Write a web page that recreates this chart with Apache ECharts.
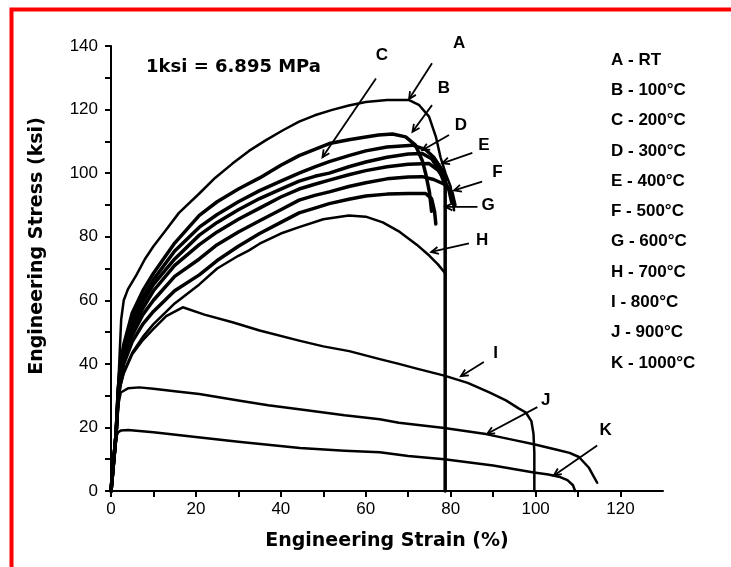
<!DOCTYPE html>
<html>
<head>
<meta charset="utf-8">
<script src="https://cdn.jsdelivr.net/npm/echarts@6/dist/echarts.min.js"></script>
<style>
html,body{margin:0;padding:0;background:#fff;}
#chart{width:731px;height:567px;}
</style>
</head>
<body>
<div id="chart"></div>
<script>
// ---- Data (strain %, stress ksi) ----
const curveNames = ['A','B','C','D','E','F','G','H','I','J','K'];
const legendLines = ['A - RT','B - 100°C','C - 200°C','D - 300°C','E - 400°C','F - 500°C','G - 600°C','H - 700°C','I - 800°C','J - 900°C','K - 1000°C'];

const curveA = [[0,0],[1.2,18],[1.7,33],[2.1,45],[2.4,54],[3,60],[4,63.5],[6,68],[8,73],[10,77],[12.9,82],[16,87.5],[20.8,93.6],[24.5,98.5],[28.6,103],[32.5,107],[36.5,110.4],[40.5,113.5],[44.3,116.2],[48,118.2],[52.1,119.9],[56,121.3],[60,122.4],[65,123],[70.2,123],[72.5,121.5],[74.9,117.8],[76.5,111.5],[77.6,105],[78.8,99.9],[80,95.7],[80.8,88.3]];
const curveB = [[0,0],[1.2,18],[1.7,32],[2.2,40],[3,46],[5,56],[7.5,63],[10,68.5],[15,78],[20.8,86.7],[25,91],[30,95],[35,98.5],[40,102.5],[44.3,105.5],[48,107.5],[51.4,109.3],[56,110.5],[60,111.4],[63,112],[66.3,112.3],[69.4,111.4],[71.7,108.8],[73.3,104],[74.1,99.9],[75,94],[75.5,88]];
const curveC = [[0,0],[1.2,18],[1.7,32],[2.2,39],[3,45],[5,54],[7.5,61],[10,66.5],[15,75.5],[20.8,83],[25,87],[30,91],[35,94.5],[40,97.5],[44.3,100],[48,102],[51.4,103.6],[56,105.5],[60,107],[65,108.2],[71,108.8],[74,107.5],[76,105],[78,101],[79,98]];
const curveD = [[0,0],[1.2,18],[1.7,31],[2.2,38],[3,44],[5,52.5],[7.5,59.5],[10,65],[15,73],[20.8,80.5],[25,84.5],[30,88.5],[35,92],[40,95],[44.3,97.5],[48,99],[51.4,100],[56,102],[60,103.5],[65,105],[70,106],[73.3,106.2],[75.5,104.5],[77.5,100.5],[78.7,96],[78.7,0]];
const curveE = [[0,0],[1.2,18],[1.7,30],[2.2,37],[3,43],[5,51],[7.5,57.5],[10,63],[15,71],[20.8,77.5],[25,81.5],[30,85.5],[35,89],[40,92.5],[44.3,95],[48,96.5],[51.4,97.8],[56,99.5],[60,100.8],[65,102],[70,102.8],[74.9,103],[77,101],[78.5,98],[79.6,94.6],[80.2,91]];
const curveF = [[0,0],[1.2,18],[1.7,30],[2.2,36],[3,41.5],[5,49],[7.5,55.5],[10,60],[15,67.5],[20.8,73],[25,77.5],[30,81.5],[35,85],[40,88.5],[44.3,91.5],[48,93],[51.4,94.1],[56,95.8],[60,97],[65,98.2],[70,98.8],[73.3,98.9],[76,98],[78.5,96.5],[80.3,94],[81,90]];
const curveG = [[0,0],[1.2,18],[1.7,29],[2.2,35],[3,40],[5,47],[7.5,52.5],[10,56.5],[15,63],[20.8,68],[25,72.5],[30,77],[35,81],[40,84.5],[44.3,87.5],[48,89],[51.4,90.4],[56,91.8],[60,92.8],[65,93.4],[70,93.6],[74.1,93.6],[75.5,92],[76.2,88],[76.5,84]];
const curveH = [[0,0],[1.2,18],[1.7,28],[2.2,33],[3,37.5],[5,43.5],[7.5,48.5],[10,52.5],[15,59],[20.8,65],[25,70],[30,74],[32.5,75.7],[35,77.8],[40,81],[44.3,83],[50,85.5],[56,86.7],[60,86.3],[64,84.5],[68,81.5],[72,77.5],[75,74],[77,71.3],[78.7,68.5]];
const curveI = [[0,0],[1.2,18],[1.7,28],[2.2,33],[3,37],[5,43],[7.5,47.5],[10,51],[13,55],[16.9,57.8],[22,55.5],[28.6,53.1],[35,50.5],[44.3,47.3],[50,45.5],[56.1,44],[63.3,41.5],[67.8,40],[72,38.5],[78.5,36.3],[84,34],[89.1,31],[93,28.5],[96,26],[97.7,24.7],[99,22],[99.5,18],[99.7,12],[99.7,0]];
const curveJ = [[0,0],[1.2,17],[1.7,27],[2.3,31],[4,32.3],[6.7,32.6],[10,32.2],[15,31.4],[20.8,30.5],[30,28.5],[37,27],[44.3,25.7],[55,23.8],[63.3,22.6],[67.8,21.5],[78.5,19.8],[88.3,17.9],[95,16],[99.6,14.7],[105,13],[108,12],[110.2,10.7],[112.5,7.4],[113.5,5],[114.5,2.6]];
const curveK = [[0,0],[1.2,17],[1.7,18.5],[2.3,19],[4,19.2],[10,18.5],[21,16.8],[30,15.5],[44.5,13.5],[55,12.7],[63.3,12.2],[70,11],[78.5,10],[90,8],[99.6,5.8],[103,5.2],[105.5,4.5],[107.5,3.4],[108.8,1.8],[109.3,0]];
const curves = [curveA,curveB,curveC,curveD,curveE,curveF,curveG,curveH,curveI,curveJ,curveK];

// Label annotations (data coordinates): letter position, arrow tail, arrow head
const annoText = {A:[82.0,141.0],B:[78.4,126.8],C:[63.8,137.2],D:[82.4,115.1],E:[87.8,108.8],F:[91.0,100.4],G:[88.8,89.9],H:[87.4,78.9],I:[90.6,43.2],J:[102.4,28.5],K:[116.5,19.1]};
const annoFrom = {A:[75.6,134.6],B:[75.6,121.4],C:[62.4,129.8],D:[79.6,112.0],E:[85.1,106.4],F:[87.4,97.3],G:[86.3,89.4],H:[84.3,77.9],I:[87.8,40.6],J:[100.4,26.4],K:[114.5,14.3]};
const annoTo = {A:[70.2,123.3],B:[71.0,113.0],C:[49.8,105.0],D:[73.3,107.2],E:[78.0,103.1],F:[80.8,94.6],G:[78.7,89.4],H:[75.4,75.2],I:[82.4,36.1],J:[88.6,18.0],K:[104.3,4.9]};

const xTitle = 'Engineering Strain (%)';
const yTitle = 'Engineering Stress (ksi)';
const noteText = '1ksi = 6.895 MPa';

const thickBand = ['B','C','D','E','F','G'];

const chart = echarts.init(document.getElementById('chart'), null, {renderer:'canvas'});

const axisCommon = {
  axisLine:{show:true,onZero:false,lineStyle:{color:'#000',width:2}},
  axisTick:{show:true,inside:false,length:6,lineStyle:{color:'#000',width:2}},
  splitLine:{show:false},
  axisLabel:{color:'#000',fontSize:17,fontFamily:'Liberation Sans, Arial, sans-serif'}
};

chart.setOption({
  animation:false,
  backgroundColor:'#fff',
  grid:{left:111,right:68,top:46,bottom:76,containLabel:false},
  xAxis:Object.assign({}, axisCommon, {
    type:'value', min:0, max:130, interval:10,
    axisLabel:Object.assign({}, axisCommon.axisLabel, {margin:10, showMaxLabel:false,
      formatter:v => (v % 20 === 0 && v <= 120) ? String(v) : ''}),
    name:xTitle, nameLocation:'middle', nameGap:41,
    nameTextStyle:{color:'#000',fontSize:19,fontWeight:'bold',fontFamily:'DejaVu Sans, sans-serif'}
  }),
  yAxis:Object.assign({}, axisCommon, {
    type:'value', min:0, max:140, interval:10,
    axisLabel:Object.assign({}, axisCommon.axisLabel, {margin:13,
      formatter:v => (v % 20 === 0) ? String(v) : ''})
  }),
  series: curveNames.map((n,i)=>({
    name:n, type:'line', data:curves[i], showSymbol:false, symbol:'none',
    smooth:false, clip:false,
    lineStyle:{color:'#000', width: thickBand.includes(n) ? 3.5 : 2.5, join:'round', cap:'round'},
    z: 3
  }))
});

// ---- annotations ----
const g = [];
// red frame
g.push({type:'rect', left:9, top:7, shape:{x:0,y:0,width:800,height:700}, style:{fill:'none',stroke:'#ff0000',lineWidth:4}, z:100, silent:true});

curveNames.forEach(n=>{
  const t = chart.convertToPixel({gridIndex:0}, annoText[n]);
  g.push({type:'text', x:t[0], y:t[1], style:{text:n, fill:'#000', font:'bold 17px "Liberation Sans", Arial, sans-serif', align:'center', verticalAlign:'middle'}, z:10});
  const a = chart.convertToPixel({gridIndex:0}, annoFrom[n]);
  const b = chart.convertToPixel({gridIndex:0}, annoTo[n]);
  g.push({type:'line', shape:{x1:a[0],y1:a[1],x2:b[0],y2:b[1]}, style:{stroke:'#000',lineWidth:1.8}, z:10});
  const ang = Math.atan2(b[1]-a[1], b[0]-a[0]);
  const L = 8, W = 0.45;
  g.push({type:'polyline', shape:{points:[
    [b[0]-L*Math.cos(ang-W), b[1]-L*Math.sin(ang-W)],
    [b[0],b[1]],
    [b[0]-L*Math.cos(ang+W), b[1]-L*Math.sin(ang+W)]
  ]}, style:{stroke:'#000',lineWidth:1.8,fill:'none'}, z:10});
});

// legend text block
legendLines.forEach((s,i)=>{
  g.push({type:'text', x:611, y:60 + i*30.3, style:{text:s, fill:'#000', font:'bold 17px "Liberation Sans", Arial, sans-serif', align:'left', verticalAlign:'middle'}, z:10});
});

// note
g.push({type:'text', x:146, y:67, style:{text:noteText, fill:'#000', font:'bold 18px "DejaVu Sans", sans-serif', align:'left', verticalAlign:'middle'}, z:10});

// y-axis title
g.push({type:'text', x:37, y:246, rotation:Math.PI/2, style:{text:yTitle, fill:'#000', font:'bold 19px "DejaVu Sans", sans-serif', align:'center', verticalAlign:'middle'}, z:10});

chart.setOption({graphic:g});
</script>
</body>
</html>
